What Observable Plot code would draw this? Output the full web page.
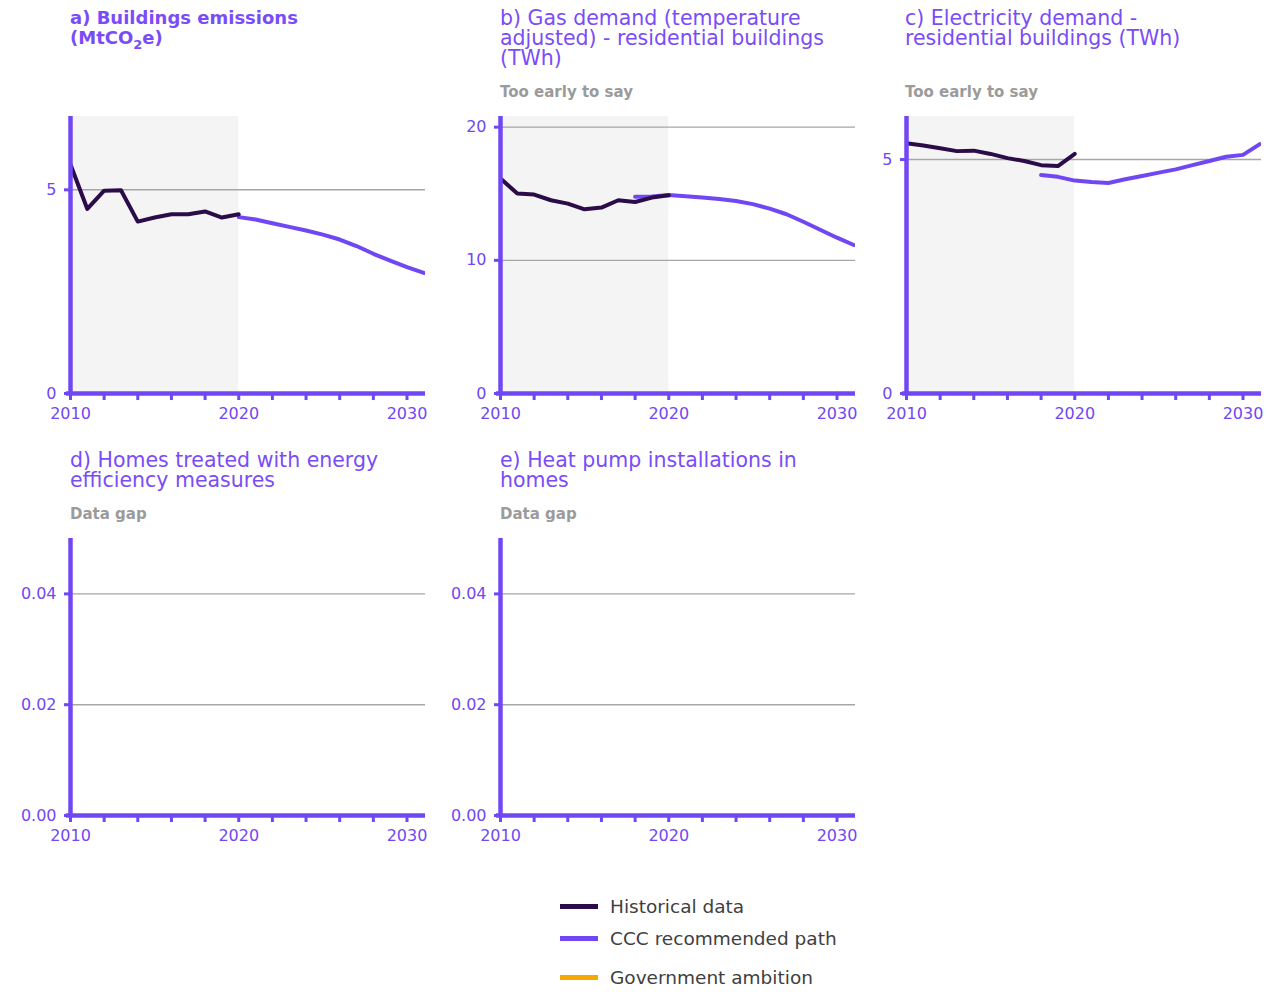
<!DOCTYPE html>
<html><head><meta charset="utf-8">
<script src="https://cdn.jsdelivr.net/npm/d3@7"></script>
<script src="https://cdn.jsdelivr.net/npm/@observablehq/plot@0.6"></script>
<style>
body{margin:0;background:#fff;font-family:"DejaVu Sans",sans-serif;}
#root{position:relative;width:1267px;height:992px;overflow:hidden;background:#fff;}
.title{position:absolute;color:#7a4cf8;font-size:20.5px;line-height:20px;white-space:nowrap;}
.title.bold{font-weight:bold;font-size:18px;}
.sub{position:absolute;color:#9b9b9b;font-weight:bold;font-size:15px;line-height:20px;white-space:nowrap;}
.plot{position:absolute;}
.leg{position:absolute;left:560px;font-size:18.5px;color:#404040;white-space:nowrap;}
.leg span.sw{display:inline-block;width:38px;height:5px;vertical-align:middle;margin-right:12px;position:relative;top:-2px;}
</style></head><body><div id="root"></div><script>
// ---- data ----
const histYears = [2010,2011,2012,2013,2014,2015,2016,2017,2018,2019,2020];
const histA = [5.62,4.53,4.98,4.99,4.22,4.32,4.40,4.40,4.47,4.32,4.40];
const cccYearsA = [2020,2021,2022,2023,2024,2025,2026,2027,2028,2029,2030,2031];
const cccA = [4.33,4.27,4.18,4.09,4.00,3.90,3.78,3.62,3.43,3.26,3.10,2.96];
const histB = [16.14,15.01,14.94,14.51,14.26,13.83,13.96,14.51,14.38,14.71,14.89];
const cccYearsB = [2018,2019,2020,2021,2022,2023,2024,2025,2026,2027,2028,2029,2030,2031];
const cccB = [14.78,14.80,14.90,14.82,14.72,14.60,14.46,14.22,13.88,13.46,12.90,12.30,11.70,11.15];
const histC = [5.35,5.30,5.24,5.18,5.19,5.12,5.03,4.97,4.88,4.86,5.12];
const cccYearsC = [2018,2019,2020,2021,2022,2023,2024,2025,2026,2027,2028,2029,2030,2031];
const cccC = [4.67,4.63,4.55,4.52,4.50,4.58,4.65,4.72,4.79,4.88,4.97,5.06,5.10,5.33];
const shadePeriod = [2010, 2020];
const xDomain = [2010, 2031.1];
const xTickYears = [2010,2012,2014,2016,2018,2020,2022,2024,2026,2028,2030];
const xLabelYears = [2010,2020,2030];
const titles = ["a) Buildings emissions<br>(MtCO<sub style='font-size:13px;line-height:0'>2</sub>e)",
  "b) Gas demand (temperature<br>adjusted) - residential buildings<br>(TWh)",
  "c) Electricity demand -<br>residential buildings (TWh)",
  "d) Homes treated with energy<br>efficiency measures",
  "e) Heat pump installations in<br>homes"];
const subtitles = ["", "Too early to say", "Too early to say", "Data gap", "Data gap"];
const legendLabels = ["Historical data", "CCC recommended path", "Government ambition"];

const PURPLE = "#7048f3", DARK = "#2b0c48", ORANGE = "#f5a800", GRID = "#a6a6a6";
const FONT = "DejaVu Sans, sans-serif";
const root = document.getElementById("root");

function toRows(xs, ys){ return xs.map((x,i)=>({year:x, value:ys[i]})); }

function panel(o){
  const marks = [];
  if (o.shade) marks.push(Plot.rect([shadePeriod], {x1: d=>d[0], x2: d=>d[1], y1: ()=>0, y2: ()=>o.ymax, fill:"#f4f4f4"}));
  marks.push(Plot.gridY(o.grid, {stroke: GRID, strokeOpacity: 1, strokeWidth: 1.4}));
  if (o.ccc) marks.push(Plot.line(o.ccc, {x:"year", y:"value", stroke: PURPLE, strokeWidth: 4, clip: true}));
  if (o.hist) marks.push(Plot.line(o.hist, {x:"year", y:"value", stroke: DARK, strokeWidth: 4, clip: true}));
  marks.push(Plot.axisX({ticks: xTickYears, tickSize: 7, strokeWidth: 3, color: PURPLE, fontSize: 16,
      tickPadding: 7, tickFormat: d => xLabelYears.includes(d) ? String(d) : "", label: null}));
  marks.push(Plot.axisY({ticks: o.yticks, tickSize: 6, strokeWidth: 3, color: PURPLE, fontSize: 16,
      tickPadding: 8, tickFormat: o.fmt || (d=>String(d)), label: null}));
  marks.push(Plot.ruleY([0], {stroke: PURPLE, strokeWidth: 4.5, insetLeft: -4}));
  marks.push(Plot.ruleX([xDomain[0]], {y1: 0, y2: o.ymax, stroke: PURPLE, strokeWidth: 4.5}));
  const svg = Plot.plot({
    width: 430, height: 330, marginLeft: 70, marginRight: 5, marginTop: 16, marginBottom: 37,
    x: {domain: xDomain}, y: {domain: [0, o.ymax]},
    style: {fontFamily: FONT, background: "transparent", overflow: "visible"},
    marks
  });
  svg.classList.add("plot");
  svg.style.left = o.left + "px"; svg.style.top = o.top + "px";
  root.appendChild(svg);
}

const hist = histYears;
panel({left:0, top:100, ymax:6.8, yticks:[0,5], grid:[5], shade:true,
  hist: toRows(hist, histA), ccc: toRows(cccYearsA, cccA)});
panel({left:430, top:100, ymax:20.8, yticks:[0,10,20], grid:[10,20], shade:true,
  hist: toRows(hist, histB), ccc: toRows(cccYearsB, cccB)});
panel({left:836, top:100, ymax:5.92, yticks:[0,5], grid:[5], shade:true,
  hist: toRows(hist, histC), ccc: toRows(cccYearsC, cccC)});
panel({left:0, top:522, ymax:0.05, yticks:[0,0.02,0.04], grid:[0.02,0.04], shade:false, fmt: d3.format(".2f")});
panel({left:430, top:522, ymax:0.05, yticks:[0,0.02,0.04], grid:[0.02,0.04], shade:false, fmt: d3.format(".2f")});

const tpos = [[70,8,true],[500,8,false],[905,8,false],[70,450,false],[500,450,false]];
const spos = [null,[500,82],[905,82],[70,504],[500,504]];
titles.forEach((t,i)=>{
  const d = document.createElement("div");
  d.className = "title" + (tpos[i][2] ? " bold" : "");
  d.style.left = tpos[i][0]+"px"; d.style.top = tpos[i][1]+"px";
  d.innerHTML = t; root.appendChild(d);
  if (subtitles[i]) {
    const s = document.createElement("div");
    s.className = "sub"; s.style.left = spos[i][0]+"px"; s.style.top = spos[i][1]+"px";
    s.textContent = subtitles[i]; root.appendChild(s);
  }
});
const legColors = [DARK, PURPLE, ORANGE];
const legTops = [896, 928, 967];
legendLabels.forEach((l,i)=>{
  const d = document.createElement("div");
  d.className = "leg"; d.style.top = legTops[i]+"px";
  d.innerHTML = `<span class="sw" style="background:${legColors[i]}"></span>${l}`;
  root.appendChild(d);
});
</script></body></html>
